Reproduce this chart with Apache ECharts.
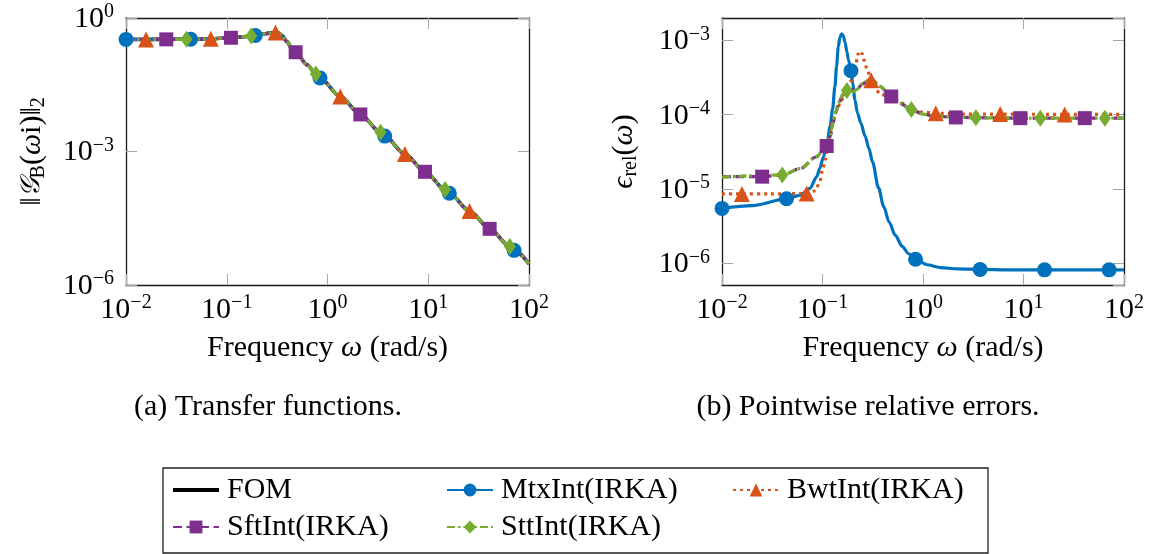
<!DOCTYPE html>
<html><head><meta charset="utf-8">
<script src="https://cdn.jsdelivr.net/npm/echarts@6/dist/echarts.min.js"></script>
<style>html,body{margin:0;padding:0;background:#fff}#c{width:1150px;height:554px}</style>
</head><body><div id="c"></div>
<script>
// ---------- data ----------
const seriesNames = ['FOM', 'MtxInt(IRKA)', 'BwtInt(IRKA)', 'SftInt(IRKA)', 'SttInt(IRKA)'];
const subCaptions = ['(a) Transfer functions.', '(b) Pointwise relative errors.'];

// (a) transfer function magnitude (all models coincide visually)
const tfFreq = [0.01, 0.0158, 0.0251, 0.0398, 0.0438, 0.0695, 0.110, 0.158, 0.175, 0.192, 0.224, 0.25, 0.282, 0.305, 0.331, 0.355, 0.398, 0.44, 0.483, 0.631, 0.766, 0.843, 1.34, 2.12, 3.36, 3.70, 5.86, 9.29, 14.7, 16.2, 25.7, 40.7, 64.6, 71.1, 100];
const tfMag = [0.330, 0.330, 0.331, 0.333, 0.334, 0.342, 0.360, 0.385, 0.395, 0.405, 0.43, 0.45, 0.465, 0.47, 0.455, 0.40, 0.29, 0.21, 0.17, 0.088, 0.055, 0.045, 0.0172, 0.0068, 0.0027, 0.00222, 0.00088, 0.00035, 0.00014, 0.000115, 0.0000458, 0.0000183, 0.0000073, 0.000006, 0.000003];

// (b) pointwise relative errors
const mtxFreq = [0.01, 0.02, 0.0438, 0.06, 0.075, 0.0875, 0.094, 0.102, 0.11, 0.119, 0.126, 0.133, 0.138, 0.1435, 0.149, 0.155, 0.161, 0.1675, 0.175, 0.181, 0.192, 0.2, 0.21, 0.223, 0.24, 0.265, 0.29, 0.315, 0.36, 0.407, 0.46, 0.53, 0.62, 0.72, 0.843, 1.1, 1.5, 2.2, 3.7, 7, 16.2, 40, 71.1, 100];
const mtxErr = [5.5e-6, 6.0e-6, 7.4e-6, 8.3e-6, 1.02e-5, 1.46e-5, 1.9e-5, 2.7e-5, 3.9e-5, 6.9e-5, 1.2e-4, 2.4e-4, 4.5e-4, 8.2e-4, 1.1e-3, 1.22e-3, 1.15e-3, 9.5e-4, 7.0e-4, 5.5e-4, 3.9e-4, 2.6e-4, 1.6e-4, 1.05e-4, 7.8e-5, 5.2e-5, 3.5e-5, 2.3e-5, 1.05e-5, 5.8e-6, 3.6e-6, 2.4e-6, 1.7e-6, 1.35e-6, 1.14e-6, 9.6e-7, 8.8e-7, 8.45e-7, 8.3e-7, 8.2e-7, 8.2e-7, 8.2e-7, 8.2e-7, 8.2e-7];

const bwtFreq = [0.01, 0.0158, 0.03, 0.0695, 0.085, 0.094, 0.1, 0.106, 0.115, 0.128, 0.138, 0.155, 0.174, 0.195, 0.21, 0.227, 0.236, 0.247, 0.259, 0.279, 0.305, 0.34, 0.373, 0.483, 0.6, 0.766, 1.0, 1.34, 2.5, 5.86, 25.7, 100];
const bwtErr = [8.6e-6, 8.6e-6, 8.6e-6, 8.7e-6, 9.5e-6, 1.25e-5, 1.8e-5, 2.45e-5, 4.5e-5, 8.5e-5, 1.15e-4, 1.57e-4, 2.4e-4, 2.9e-4, 4.2e-4, 6.6e-4, 7.2e-4, 6.7e-4, 5.4e-4, 4.0e-4, 2.9e-4, 2.2e-4, 1.9e-4, 1.72e-4, 1.45e-4, 1.2e-4, 1.08e-4, 1.05e-4, 1.02e-4, 1.02e-4, 1.01e-4, 1.01e-4];

const sftFreq = [0.01, 0.0251, 0.04, 0.061, 0.086, 0.110, 0.12, 0.127, 0.135, 0.145, 0.16, 0.175, 0.19, 0.203, 0.22, 0.25, 0.29, 0.32, 0.373, 0.483, 0.59, 0.766, 1.0, 1.3, 2.12, 9.29, 40.7, 100];
const sftErr = [1.47e-5, 1.47e-5, 1.55e-5, 1.9e-5, 2.7e-5, 3.8e-5, 5.2e-5, 7.6e-5, 1.05e-4, 1.42e-4, 1.85e-4, 2.12e-4, 2.2e-4, 2.1e-4, 2.2e-4, 2.6e-4, 3.0e-4, 2.85e-4, 2.4e-4, 1.76e-4, 1.42e-4, 1.18e-4, 1.02e-4, 9.6e-5, 9.2e-5, 9.0e-5, 9.0e-5, 9.0e-5];

const sttFreq = [0.01, 0.0398, 0.061, 0.086, 0.11, 0.12, 0.127, 0.135, 0.145, 0.16, 0.175, 0.19, 0.203, 0.22, 0.25, 0.29, 0.32, 0.373, 0.483, 0.59, 0.766, 1.0, 1.3, 3.36, 14.7, 64.6, 100];
const sttErr = [1.45e-5, 1.55e-5, 1.9e-5, 2.7e-5, 3.8e-5, 5.4e-5, 7.8e-5, 1.08e-4, 1.45e-4, 1.9e-4, 2.12e-4, 2.15e-4, 2.05e-4, 2.2e-4, 2.6e-4, 2.95e-4, 2.85e-4, 2.4e-4, 1.76e-4, 1.42e-4, 1.18e-4, 1.02e-4, 9.5e-5, 9.1e-5, 9.0e-5, 9.0e-5, 9.0e-5];

// frequencies at which each model carries a marker
const mtxMarkFreq = [0.01, 0.0438, 0.192, 0.843, 3.70, 16.2, 71.1];
const bwtMarkFreq = [0.0158, 0.0695, 0.305, 1.34, 5.86, 25.7];
const sftMarkFreq = [0.0251, 0.110, 0.483, 2.12, 9.29, 40.7];
const sttMarkFreq = [0.0398, 0.175, 0.766, 3.36, 14.7, 64.6];

// ---------- styling ----------
const F = 'Liberation Serif';
const FS = 30;
const colors = { FOM: '#000000', 'MtxInt(IRKA)': '#0072BD', 'BwtInt(IRKA)': '#D95319', 'SftInt(IRKA)': '#7E2F8E', 'SttInt(IRKA)': '#77AC30' };
const styles = {
  'FOM': { width: 3.6, type: 'solid', symbol: 'none', size: 0 },
  'MtxInt(IRKA)': { width: 3.2, type: 'solid', symbol: 'circle', size: 15 },
  'BwtInt(IRKA)': { width: 3.2, type: [3, 4], symbol: 'triangle', size: 16 },
  'SftInt(IRKA)': { width: 3.2, type: [9, 4.5], symbol: 'rect', size: 14 },
  'SttInt(IRKA)': { width: 3.2, type: [8, 3, 2.5, 3], symbol: 'diamond', size: [12, 17] }
};

function buildData(freq, vals, marks) {
  return freq.map((f, i) => {
    const m = marks && marks.some(x => Math.abs(x - f) / x < 1e-6);
    return m ? { value: [f, vals[i]] } : { value: [f, vals[i]], symbol: 'none' };
  });
}
function mkSeries(name, xi, yi, data) {
  const s = styles[name];
  return {
    type: 'line', name: name, xAxisIndex: xi, yAxisIndex: yi, data: data,
    showSymbol: true, symbol: s.symbol, symbolSize: s.size,
    smooth: 0.3, smoothMonotone: 'x',
    color: colors[name],
    itemStyle: { color: colors[name] },
    lineStyle: { color: colors[name], width: s.width, type: s.type },
    emphasis: { disabled: true }, animation: false, clip: true
  };
}

const labelRich = {
  b: { fontFamily: F, fontSize: FS, lineHeight: 32, verticalAlign: 'bottom', color: '#000' },
  s: { fontFamily: F, fontSize: 20, lineHeight: 18, verticalAlign: 'top', color: '#000' }
};
function expLabel(v) {
  const e = Math.round(Math.log10(v));
  return '{b|10}{s|' + (e < 0 ? '\u2212' + (-e) : e) + '}';
}
const nameRich = {
  n: { fontFamily: F, fontSize: FS, lineHeight: 34, color: '#000' },
  it: { fontFamily: F, fontSize: FS, lineHeight: 34, fontStyle: 'italic', color: '#000' },
  g: { fontFamily: 'DejaVu Serif', fontSize: 27, lineHeight: 34, fontStyle: 'italic', color: '#000' },
  sub: { fontFamily: F, fontSize: 20, lineHeight: 16, verticalAlign: 'bottom', color: '#000' }
};

const lineBlack = { show: true, lineStyle: { color: '#1a1a1a', width: 1.3 } };
const tickGray = { show: true, inside: true, length: 11, lineStyle: { color: '#a6a6a6', width: 1 } };

function xAx(grid, bottom) {
  return {
    type: 'log', logBase: 10, gridIndex: grid, min: 0.01, max: 100, interval: 1,
    position: bottom ? 'bottom' : 'top',
    axisLine: lineBlack, axisTick: tickGray, splitLine: { show: false }, minorTick: { show: false },
    axisLabel: bottom ? { show: true, margin: 8, formatter: expLabel, rich: labelRich } : { show: false },
    name: bottom ? '{n|Frequency }{it|\u03C9}{n| (rad/s)}' : '',
    nameLocation: 'middle', nameGap: 46, nameTextStyle: { rich: nameRich }
  };
}
function yAx(grid, left, min, max, interval, name, gap) {
  const a = {
    type: 'log', logBase: 10, gridIndex: grid, min: min, max: max,
    position: left ? 'left' : 'right',
    axisLine: lineBlack, axisTick: tickGray, splitLine: { show: false }, minorTick: { show: false },
    axisLabel: left ? { show: true, margin: 12, formatter: expLabel, rich: labelRich, showMinLabel: interval ? true : false, showMaxLabel: interval ? true : false } : { show: false },
    name: left ? name : '', nameLocation: 'middle', nameGap: gap, nameTextStyle: { rich: nameRich }
  };
  if (interval) a.interval = interval;
  return a;
}

const series = [];
const tfMarks = [null, mtxMarkFreq, bwtMarkFreq, sftMarkFreq, sttMarkFreq];
seriesNames.forEach((n, i) => series.push(mkSeries(n, 0, 0, buildData(tfFreq, tfMag, tfMarks[i]))));
series.push(mkSeries('MtxInt(IRKA)', 2, 2, buildData(mtxFreq, mtxErr, mtxMarkFreq)));
series.push(mkSeries('BwtInt(IRKA)', 2, 2, buildData(bwtFreq, bwtErr, bwtMarkFreq)));
series.push(mkSeries('SftInt(IRKA)', 2, 2, buildData(sftFreq, sftErr, sftMarkFreq)));
series.push(mkSeries('SttInt(IRKA)', 2, 2, buildData(sttFreq, sttErr, sttMarkFreq)));

const legendBase = {
  orient: 'vertical', top: 475, itemGap: 7, itemWidth: 46, itemHeight: 16, padding: 0,
  selectedMode: false,
  textStyle: { fontFamily: F, fontSize: FS, lineHeight: 30, color: '#000', padding: [0, 0, 0, 3] }
};

const option = {
  backgroundColor: '#fff',
  animation: false,
  grid: [
    { left: 126, top: 18, width: 403, height: 267 },
    { left: 722, top: 18, width: 402, height: 267 }
  ],
  xAxis: [xAx(0, true), xAx(0, false), xAx(1, true), xAx(1, false)],
  yAxis: [
    yAx(0, true, 1e-6, 1, 3, '{n|\u2016}{g|\uD835\uDCA2}{sub|B}{n|(}{it|\u03C9}{n|i)\u2016}{sub|2}', 77),
    yAx(0, false, 1e-6, 1, 3, '', 0),
    yAx(1, true, 5.13e-7, 2.0e-3, null, '{it|\u03F5}{sub|rel}{n|(}{it|\u03C9}{n|)}', 81),
    yAx(1, false, 5.13e-7, 2.0e-3, null, '', 0)
  ],
  legend: [
    Object.assign({}, legendBase, { left: 172, data: [{ name: seriesNames[0], icon: 'path://M0,0H46V4H0Z' }, seriesNames[3]] }),
    Object.assign({}, legendBase, { left: 446, data: [seriesNames[1], seriesNames[4]] }),
    Object.assign({}, legendBase, { left: 732, data: [seriesNames[2]] })
  ],
  graphic: [
    { type: 'rect', shape: { x: 163, y: 468, width: 825, height: 85 }, style: { fill: 'none', stroke: '#222', lineWidth: 1.3 }, silent: true },
    { type: 'text', x: 268, y: 407, style: { text: subCaptions[0], font: FS + 'px "' + F + '"', fill: '#000', textAlign: 'center', textVerticalAlign: 'middle' }, silent: true },
    { type: 'text', x: 868, y: 407, style: { text: subCaptions[1], font: FS + 'px "' + F + '"', fill: '#000', textAlign: 'center', textVerticalAlign: 'middle' }, silent: true }
  ],
  series: series
};
const chart = echarts.init(document.getElementById('c'), null, { renderer: 'canvas' });
chart.setOption(option);
</script>
</body></html>
